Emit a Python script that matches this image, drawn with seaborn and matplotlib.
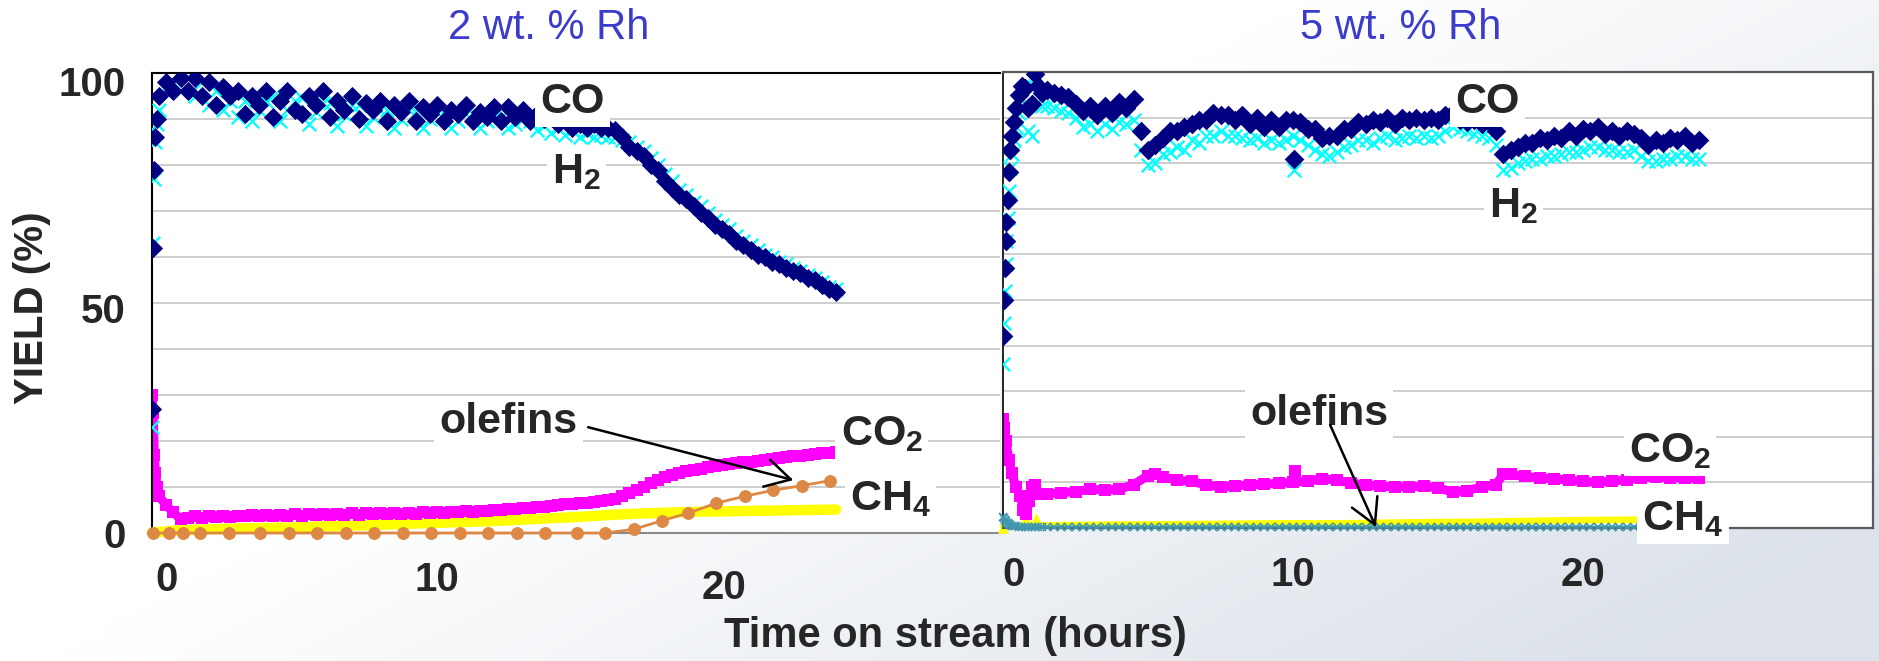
import numpy as np
import pandas as pd
import matplotlib
matplotlib.use("Agg")
import matplotlib.pyplot as plt
from matplotlib.transforms import ScaledTranslation
import seaborn as sns

# ------------------------------------------------------------------
# 2 wt.% Rh catalyst: yields (%) versus time on stream (h)
# ------------------------------------------------------------------
hours_2rh = [0.0, 0.04, 0.08, 0.12, 0.18,
             0.25, 0.5, 0.75, 1.0,
             1.25, 1.5, 1.75, 2.0,
             2.25, 2.5, 2.75, 3.0,
             3.25, 3.5, 3.75, 4.0,
             4.25, 4.5, 4.75, 5.0,
             5.25, 5.5, 5.75, 6.0,
             6.25, 6.5, 6.75, 7.0,
             7.25, 7.5, 7.75, 8.0,
             8.25, 8.5, 8.75, 9.0,
             9.25, 9.5, 9.75, 10.0,
             10.25, 10.5, 10.75, 11.0,
             11.25, 11.5, 11.75, 12.0,
             12.25, 12.5, 12.75, 13.0,
             13.25, 13.5, 13.75, 14.0,
             14.25, 14.5, 14.75, 15.0,
             15.25, 15.5, 15.75, 16.0,
             16.25, 16.5, 16.75, 17.0,
             17.25, 17.5, 17.75, 18.0,
             18.25, 18.5, 18.75, 19.0,
             19.25, 19.5, 19.75, 20.0,
             20.25, 20.5, 20.75, 21.0,
             21.25, 21.5, 21.75, 22.0,
             22.25, 22.5, 22.75, 23.0,
             23.25, 23.5, 23.75, 24.0]

co_2rh = [27, 62, 79, 86, 90,
          95, 98, 96, 99,
          96, 99, 95, 98,
          93, 97, 95, 96,
          91, 95, 93, 96,
          90.5, 94, 96, 92,
          91, 95, 93, 96,
          90.5, 94, 92, 95,
          90, 93.5, 92, 94,
          89.5, 93, 91.5, 94,
          89.5, 92.5, 91, 93,
          89.5, 92, 91, 93,
          89.5, 91.5, 90.5, 92.5,
          89.5, 92.5, 90.5, 92,
          89.5, 91, 90, 91,
          89, 90, 88, 89,
          88, 89, 88, 88,
          87.5, 86, 84, 83,
          82, 80, 79, 76.5,
          75, 73.5, 72.5, 71,
          69.5, 68.5, 67, 66,
          65, 63.5, 62.5, 61.5,
          60.5, 60, 59, 58.5,
          57.5, 57, 56.5, 55.5,
          55, 54, 53, 52.5]

h2_2rh = [23, 63, 77, 85, 89,
          92, 97, 98, 96,
          99, 95, 98, 93,
          96, 92, 94, 90.5,
          94, 89.5, 92, 94,
          95, 89.5, 92, 94,
          94.5, 89, 91.5, 93.5,
          93.5, 88.5, 91, 93,
          93, 88.5, 90.5, 92,
          92, 88, 90, 92,
          91.5, 88, 90, 91.5,
          91, 88, 89.5, 91,
          91, 88, 89.5, 90.5,
          90.5, 88, 89, 90,
          89.5, 87.5, 88.5, 87,
          88, 86.5, 87.5, 86,
          87, 86, 86.5, 86,
          86, 85.5, 85, 84,
          83, 81.5, 80, 78,
          76.5, 74.5, 73.5, 72,
          71, 69.5, 68, 67,
          66, 64.5, 63.5, 62.5,
          61.5, 60.5, 60, 59,
          58.5, 57.5, 57, 56,
          55.5, 54.5, 53.5, 53]

co2_2rh = [30, 26, 17, 13, 10,
           8, 6, 4.5, 3.0,
           3.2, 3.6, 3.3, 3.6,
           3.4, 3.8, 3.5, 3.8,
           3.6, 4.0, 3.7, 3.9,
           3.6, 4.0, 3.8, 4.1,
           3.8, 4.1, 3.9, 4.1,
           3.9, 4.2, 4.0, 4.3,
           4.0, 4.3, 4.1, 4.3,
           4.1, 4.4, 4.2, 4.4,
           4.2, 4.5, 4.3, 4.5,
           4.4, 4.6, 4.5, 4.7,
           4.6, 4.8, 4.8, 5.0,
           5.0, 5.2, 5.2, 5.4,
           5.4, 5.6, 5.7, 5.9,
           6.0, 6.2, 6.3, 6.5,
           6.6, 6.8, 7.0, 7.2,
           7.5, 8.0, 8.6, 9.3,
           10.0, 10.8, 11.5, 12.1,
           12.6, 13.0, 13.4, 13.7,
           14.0, 14.3, 14.6, 14.8,
           15.0, 15.2, 15.4, 15.5,
           15.7, 15.9, 16.1, 16.3,
           16.5, 16.7, 16.8, 17.0,
           17.2, 17.3, 17.5, 17.7]

hours_ch4_2rh = [0, 1, 2, 3, 4, 5, 6, 7, 8, 9, 10, 11, 12,
                 13, 14, 15, 16, 17, 18, 19, 20, 21, 22, 23, 24]
ch4_2rh = [0.1, 0.6, 0.8, 1.0, 1.1, 1.2, 1.4, 1.6, 1.8, 2.0, 2.2, 2.4, 2.6,
           2.9, 3.2, 3.5, 3.9, 4.2, 4.4, 4.6, 4.7, 4.8, 4.9, 5.0, 5.1]

hours_olef_2rh = [0.05, 0.6, 1.1, 1.7, 2.7, 3.8, 4.8, 5.8, 6.8, 7.8, 8.8, 9.8, 10.8,
                  11.8, 12.8, 13.8, 14.9, 15.9, 16.9, 17.9, 18.8, 19.8, 20.8,
                  21.8, 22.8, 23.8]
olefins_2rh = [0, 0, 0, 0, 0, 0, 0, 0, 0, 0, 0, 0, 0,
               0, 0, 0, 0, 0, 0.8, 2.7, 4.3, 6.5, 8.0,
               9.3, 10.3, 11.4]

# ------------------------------------------------------------------
# 5 wt.% Rh catalyst
# ------------------------------------------------------------------
hours_5rh = [0.0, 0.03, 0.06, 0.09, 0.12, 0.16, 0.2, 0.25, 0.3, 0.37,
             0.45, 0.55, 0.65, 0.75, 0.85, 1.0, 1.1, 1.2, 1.35, 1.5, 1.75,
             2.0, 2.25, 2.5, 2.75,
             3.0, 3.25, 3.5, 3.75,
             4.0, 4.25, 4.5, 4.75,
             5.0, 5.25, 5.5, 5.75,
             6.0, 6.25, 6.5, 6.75,
             7.0, 7.25, 7.5, 7.75,
             8.0, 8.25, 8.5, 8.75,
             9.0, 9.25, 9.5, 9.75,
             10.0, 10.25, 10.5, 10.75,
             11.0, 11.25, 11.5, 11.75,
             12.0, 12.25, 12.5, 12.75,
             13.0, 13.25, 13.5, 13.75,
             14.0, 14.25, 14.5, 14.75,
             15.0, 15.25, 15.5, 15.75,
             16.0, 16.25, 16.5, 16.75,
             17.0, 17.25, 17.5, 17.75,
             18.0, 18.25, 18.5, 18.75,
             19.0, 19.25, 19.5, 19.75,
             20.0, 20.25, 20.5, 20.75,
             21.0, 21.25, 21.5, 21.75,
             22.0, 22.25, 22.5, 22.75,
             23.0, 23.25, 23.5, 23.75,
             24.0]

co_5rh = [42, 50, 57, 63, 67, 72, 78, 83, 86, 89,
          92, 95, 97, 96.5, 92, 93, 99.5, 97, 95.5, 96, 95.5,
          95, 94.5, 93, 91.5,
          92.5, 90.5, 92.5, 91,
          93.5, 92, 94, 87,
          83, 84, 85.5, 87,
          87, 88, 88.5, 89.5,
          89.5, 91, 90.5, 90.5,
          89.5, 90.5, 88.5, 90,
          88, 89.5, 88, 89.5,
          89.5, 89, 87.5, 87.5,
          85.5, 86, 86, 87.5,
          87.5, 89, 88.5, 89.5,
          89, 90, 88.5, 90,
          89.5, 90, 89.5, 90,
          89.5, 90.5, 91, 89.5,
          89, 89.5, 88.5, 89,
          87, 82, 83, 83.5,
          84.5, 84.5, 85.5, 85,
          86, 85.5, 87, 86,
          87.5, 87, 88, 86.5,
          87, 86, 87, 86.5,
          85.5, 84, 85, 84.5,
          85.5, 85, 86, 84.5,
          85]

h2_5rh = [36, 45, 52, 58, 63, 68, 74, 79, 82, 85,
          88, 91, 94, 93, 87, 86, 97, 93.5, 92.5, 92.5, 92,
          91.5, 91, 90, 88,
          88.5, 87, 88.5, 87.5,
          89, 88.5, 89.5, 83,
          79.5, 80, 82, 82.5,
          83.5, 83, 85, 84.5,
          86, 86, 87, 86,
          86, 85.5, 85, 85.5,
          84.5, 85, 84.5, 85,
          86, 85, 84, 83,
          82, 81.5, 82.5, 83.5,
          84, 85, 85, 84.5,
          85.5, 86, 85, 85.5,
          86, 85.5, 86, 85.5,
          86, 87, 88, 87.5,
          87, 86.5, 86, 85.5,
          84, 78.5, 79, 80,
          80.5, 81, 81, 81.5,
          81.5, 82, 82.5, 82.5,
          83, 83.5, 83.5, 83,
          83, 82.5, 82.5, 83,
          81.5, 80.5, 80.5, 81,
          81, 81.5, 81.5, 81,
          81]

olefins_5rh = [2.5, 2.2, 1.8, 1.5, 1.2, 1.0, 0.8, 0.6, 0.5, 0.4,
               0.4, 0.3, 0.3, 0.3, 0.3, 0.3, 0.3, 0.3, 0.3, 0.3, 0.3,
               0.3, 0.3, 0.3, 0.3,
               0.3, 0.3, 0.3, 0.3,
               0.3, 0.3, 0.3, 0.3,
               0.3, 0.3, 0.3, 0.3,
               0.3, 0.3, 0.3, 0.3,
               0.3, 0.3, 0.3, 0.3,
               0.3, 0.3, 0.3, 0.3,
               0.3, 0.3, 0.3, 0.3,
               0.3, 0.3, 0.3, 0.3,
               0.3, 0.3, 0.3, 0.3,
               0.3, 0.3, 0.3, 0.3,
               0.3, 0.3, 0.3, 0.3,
               0.3, 0.3, 0.3, 0.3,
               0.3, 0.3, 0.3, 0.3,
               0.3, 0.3, 0.3, 0.3,
               0.3, 0.3, 0.3, 0.3,
               0.3, 0.3, 0.3, 0.3,
               0.3, 0.3, 0.3, 0.3,
               0.3, 0.3, 0.3, 0.3,
               0.3, 0.3, 0.3, 0.3,
               0.3, 0.3, 0.3, 0.3,
               0.3, 0.3, 0.3, 0.3,
               0.3]

hours_outlier_5rh = [10.05]
co_outlier_5rh = [81]
h2_outlier_5rh = [78.5]

hours_co2_5rh = [0.0, 0.05, 0.1, 0.2, 0.3, 0.45, 0.6, 0.7, 0.8, 0.9,
                 1.0, 1.1, 1.25, 1.5, 2.0, 2.5, 3.0, 3.5, 4.0, 4.5,
                 5.0, 5.25, 5.5, 6.0, 6.5, 7.0, 7.5, 8.0, 8.5, 9.0,
                 9.5, 10.0, 10.5, 11.0, 11.5, 12.0, 12.5, 13.0, 13.5, 14.0,
                 14.5, 15.0, 15.5, 16.0, 16.5, 17.0, 17.25, 17.5, 18.0, 18.5,
                 19.0, 19.5, 20.0, 20.5, 21.0, 21.5, 22.0, 22.5, 23.0, 23.5,
                 24.0]
co2_5rh = [24, 22, 19, 15, 12, 9, 7, 4, 3, 6,
           9, 9.5, 7.5, 7.5, 7.7, 8, 8.5, 8.3, 8.5, 9.5,
           11.5, 11.8, 11.2, 10.5, 10.2, 9.5, 9, 9.2, 9.5, 9.6,
           9.8, 10, 10.3, 10.8, 10.5, 9.8, 9.5, 9.2, 9, 9,
           9.2, 8.8, 7.9, 8.2, 9, 9.5, 11.8, 11.8, 11.3, 11,
           10.8, 10.5, 10.2, 10, 10.3, 10.6, 11, 11.2, 11, 10.9,
           10.9]
hours_co2_outlier_5rh = [10.07]
co2_outlier_5rh = [12.5]

hours_ch4_5rh = [0, 2, 4, 6, 8, 10, 12, 14, 16, 18, 20, 22, 24]
ch4_5rh = [0.3, 0.6, 0.7, 0.8, 0.9, 1.0, 1.0, 1.2, 1.3, 1.5, 1.7, 1.8, 2.0]
hours_ch4_spike_5rh = [0.0, 0.79, 0.8, 1.14]
ch4_spike_5rh = [0.0, 3.5, 2.2, 2.2]

panel_titles = ["2 wt. % Rh", "5 wt. % Rh"]
y_label = "YIELD (%)"
x_label = "Time on stream (hours)"

# ------------------------------------------------------------------
NAVY = "#000080"
CYAN = "#00ffff"
MAGENTA = "#ff00ff"
YELLOW = "#ffff00"
ORANGE = "#dd8844"
TEAL = "#3f98b0"
TITLE_BLUE = "#3b3bcc"

sns.set_style("white")
plt.rcParams["font.family"] = ["Liberation Sans", "DejaVu Sans"]
plt.rcParams["font.weight"] = "bold"
plt.rcParams["mathtext.default"] = "regular"

W, H = 1879, 661
fig = plt.figure(figsize=(W / 100, H / 100), dpi=100)

# slide background: white fading to a pale blue-grey towards the lower right
bg = fig.add_axes([0, 0, 1, 1], zorder=-10)
gy, gx = np.mgrid[0:1:67j, 0:1:188j]
fade = np.clip(1.2 * (gx - 0.4) + 0.8 * (gy - 0.45), 0, 1)[..., None]
tint = np.array([0.863, 0.886, 0.918])
bg.imshow(1 - fade * (1 - tint), extent=[0, 1, 0, 1], aspect="auto",
          interpolation="bilinear", origin="upper")
bg.axis("off")

axL = fig.add_axes([152 / W, 1 - 533 / H, 848 / W, 460 / H])
axR = fig.add_axes([1003 / W, 1 - 528 / H, 870 / W, 456 / H])

line_kw = dict(estimator=None, sort=False, errorbar=None, legend=False)

# ---- left panel: 2 wt.% Rh ----
sns.lineplot(x=hours_ch4_2rh, y=ch4_2rh, color=YELLOW, lw=7.5, ax=axL,
             zorder=2, clip_on=False, **line_kw)
sns.lineplot(x=hours_2rh, y=co2_2rh, color=MAGENTA, lw=6.5, ax=axL, zorder=2.2, **line_kw)
sns.scatterplot(x=hours_2rh, y=co2_2rh, marker="s", s=75, color=MAGENTA,
                linewidth=0, ax=axL, zorder=2.3, legend=False)
sns.scatterplot(x=hours_2rh, y=h2_2rh, marker="x", s=95, color=CYAN,
                linewidth=1.6, ax=axL, zorder=3, legend=False)
sns.scatterplot(x=hours_2rh, y=co_2rh, marker="D", s=95, color=NAVY,
                linewidth=0, ax=axL, zorder=4, legend=False)
sns.lineplot(x=hours_olef_2rh, y=olefins_2rh, color=ORANGE, lw=2, marker="o",
             markersize=8.5, markeredgecolor=ORANGE, ax=axL, zorder=5,
             clip_on=False, **line_kw)

# ---- right panel: 5 wt.% Rh ----
sns.lineplot(x=hours_co2_5rh, y=co2_5rh, color=MAGENTA, lw=6.5, ax=axR, zorder=2.2, **line_kw)
sns.scatterplot(x=hours_co2_5rh + hours_co2_outlier_5rh, y=co2_5rh + co2_outlier_5rh,
                marker="s", s=75, color=MAGENTA, linewidth=0, ax=axR, zorder=2.3,
                legend=False)
sns.lineplot(x=hours_ch4_5rh, y=ch4_5rh, color=YELLOW, lw=5, ax=axR, zorder=2,
             clip_on=False, **line_kw)
sns.scatterplot(x=hours_ch4_spike_5rh, y=ch4_spike_5rh, marker="^", s=60, color=YELLOW,
                linewidth=0, ax=axR, zorder=2.1, legend=False, clip_on=False)
sns.lineplot(x=hours_5rh, y=olefins_5rh, color=TEAL, lw=1.5, marker="x",
             markersize=5.5, markeredgewidth=1.2, markeredgecolor=TEAL, ax=axR,
             zorder=2.6, clip_on=False, **line_kw)
sns.scatterplot(x=hours_5rh + hours_outlier_5rh, y=h2_5rh + h2_outlier_5rh, marker="x",
                s=95, color=CYAN, linewidth=1.6, ax=axR, zorder=3, legend=False)
sns.scatterplot(x=hours_5rh + hours_outlier_5rh, y=co_5rh + co_outlier_5rh, marker="D",
                s=100, color=NAVY, linewidth=0, ax=axR, zorder=4, legend=False)

# ---- axes styling ----
for ax, xmax in ((axL, 29.75), (axR, 30)):
    ax.set_xlim(0, xmax)
    ax.set_ylim(0, 100)
    ax.set_yticks(range(0, 101, 10))
    ax.grid(axis="y", color="#c6c6c6", lw=1.2)
    ax.grid(axis="x", visible=False)
    ax.set_axisbelow(True)
    ax.set_facecolor("white")
    ax.set_xlabel("")
    ax.set_ylabel("")
    ax.tick_params(axis="x", direction="out", length=4.5, width=1, color="#555555",
                   pad=16, labelsize=29)
    ax.tick_params(axis="y", direction="out", length=5, width=1, color="#333333",
                   pad=14, labelsize=29)

axL.set_xticks([0, 5, 10, 15, 20, 25], ["0", "", "10", "", "20", ""])
axR.set_xticks([0, 5, 10, 15, 20, 25, 30], ["0", "", "10", "", "20", "", ""])
axL.set_yticklabels(["0", "", "", "", "", "50", "", "", "", "", "100"])
axR.set_yticklabels([])

# hand-placed look of the hour labels
def nudge(label, dx_px, dy_px):
    label.set_transform(label.get_transform()
                        + ScaledTranslation(dx_px / 100, dy_px / 100, fig.dpi_scale_trans))

nudge(axL.get_xticklabels()[0], 15, 0)
nudge(axL.get_xticklabels()[4], 2, -8)
nudge(axR.get_xticklabels()[0], 11, 0)
nudge(axL.get_yticklabels()[10], 0, -8)
nudge(axL.get_yticklabels()[5], 0, -5)

axL.spines["right"].set_visible(False)
axL.spines["top"].set(color="black", lw=1.5)
axL.spines["left"].set(color="black", lw=1.5)
axL.spines["bottom"].set(color="#8a8a8a", lw=1.5)
axR.spines["left"].set(color="black", lw=1.2)
for side in ("top", "right", "bottom"):
    axR.spines[side].set(color="#5a5a5a", lw=1.6)

# ---- series labels ----
box = dict(facecolor="white", edgecolor="none", boxstyle="square,pad=0.12")
label_kw = dict(fontsize=31, fontweight="bold", ha="center", va="baseline",
                bbox=box, zorder=6, clip_on=False)

axL.text(14.75, 91.3, "CO", **label_kw)
axL.text(14.9, 76.1, "H$_2$", **label_kw)
axL.text(12.5, 21.7, "olefins", **label_kw)
axL.text(25.6, 19.1, "CO$_2$", **label_kw)
axL.text(25.9, 5.0, "CH$_4$", **label_kw)

axR.text(16.7, 91.0, "CO", **label_kw)
axR.text(17.6, 68.2, "H$_2$", **label_kw)
axR.text(10.9, 22.6, "olefins", **label_kw)
axR.text(23.0, 14.5, "CO$_2$", **label_kw)
axR.text(23.45, -0.4, "CH$_4$", **label_kw)

arrow = dict(arrowstyle="->,head_length=0.9,head_width=0.5", mutation_scale=20,
             lw=1.8, color="black", shrinkA=0, shrinkB=0)
axL.annotate("", xy=(22.5, 11.5), xytext=(15.3, 23.0), arrowprops=arrow, zorder=7)
axR.annotate("", xy=(12.86, 0.2), xytext=(11.28, 22.6), arrowprops=arrow, zorder=7)

# ---- titles and axis captions ----
fig.text(549 / W, 1 - 28 / H, panel_titles[0], fontsize=30, fontweight="normal",
         color=TITLE_BLUE, ha="center", va="center")
fig.text(1401 / W, 1 - 28 / H, panel_titles[1], fontsize=30, fontweight="normal",
         color=TITLE_BLUE, ha="center", va="center")
fig.text(32 / W, 1 - 308 / H, y_label, fontsize=29, fontweight="bold", rotation=90,
         ha="center", va="center")
fig.text(955 / W, 1 - 636 / H, x_label, fontsize=30, fontweight="bold",
         ha="center", va="center")

fig.savefig("out.png", dpi=100)
